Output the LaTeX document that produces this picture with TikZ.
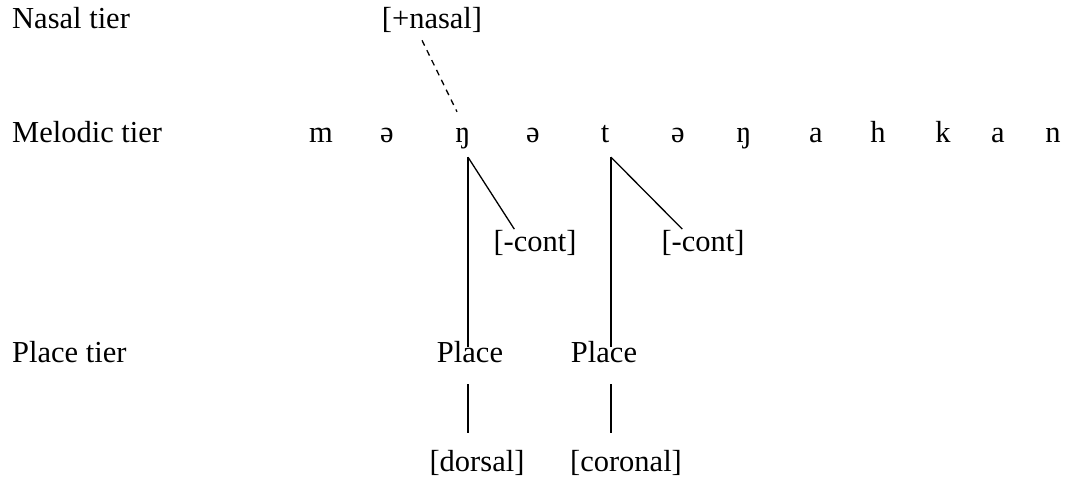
\documentclass[tikz,border=0pt]{standalone}
\usepackage{fontspec}
\setmainfont{Liberation Serif}
\usetikzlibrary{calc}
\begin{document}
\begin{tikzpicture}[x=1pt,y=-1pt,
  every node/.style={font=\fontsize{30.5}{36}\selectfont},
  tierlabel/.style={anchor=base west,inner sep=0pt},
  seg/.style={anchor=base,inner xsep=0pt,inner ysep=7pt,text height=21pt,text depth=7pt},
  feat/.style={anchor=base,inner sep=0pt},
  assoc/.style={line width=1.3pt},
  nasalink/.style={line width=1.3pt,dash pattern=on 6pt off 5pt}]
\useasboundingbox (0,0) rectangle (1068,478);

% tier names
\node[tierlabel] (tn) at (12,29) {Nasal tier};
\node[tierlabel] (tm) at (12,143) {Melodic tier};
\node[tierlabel] (tp) at (12,362) {Place tier};

% nasal feature
\node[feat] (nas) at (432,29) {[+nasal]};

% melodic segments
\node[seg] (s1) at (321,143) {m};
\node[seg] (s2) at (387,143) {ə};
\node[seg] (s3) at (463,143) {ŋ};
\node[seg] (s4) at (533,143) {ə};
\node[seg] (s5) at (605,143) {t};
\node[seg] (s6) at (678,143) {ə};
\node[seg] (s7) at (744,143) {ŋ};
\node[seg] (s8) at (816,143) {a};
\node[seg] (s9) at (878,143) {h};
\node[seg] (s10) at (943,143) {k};
\node[seg] (s11) at (998,143) {a};
\node[seg] (s12) at (1053,143) {n};

% [-cont] features
\node[feat,inner sep=1pt] (c1) at (535,251.5) {[-cont]};
\node[feat,inner sep=1pt] (c2) at (703,251.5) {[-cont]};

% place nodes and their features
\node[feat] (p1) at (470,362) {Place};
\node[feat] (p2) at (604,362) {Place};
\node[feat] (d1) at (477,471) {[dorsal]};
\node[feat] (d2) at (626,471) {[coronal]};

% stems below the two consonants
\coordinate (r1) at ($(s3.south)+(5,0)$);
\coordinate (r2) at ($(s5.south)+(6,0)$);

% nasal spreading
\draw[nasalink] ($(nas.south)+(-10,7)$) -- ($(s3.north)+(-6,-3)$);

% continuancy
\draw[assoc] (r1) -- ($(c1.north west)+(22,0)$);
\draw[assoc] (r2) -- ($(c2.north west)+(22,0)$);

% place links
\draw[assoc] (r1) -- ($(p1.north -| r1)+(0,6)$);
\draw[assoc] (r2) -- ($(p2.north -| r2)+(0,6)$);
\draw[assoc] ($(p1.south -| r1)+(0,22)$) -- ($(d1.north -| r1)+(0,-17)$);
\draw[assoc] ($(p2.south -| r2)+(0,22)$) -- ($(d2.north -| r2)+(0,-17)$);
\end{tikzpicture}
\end{document}
